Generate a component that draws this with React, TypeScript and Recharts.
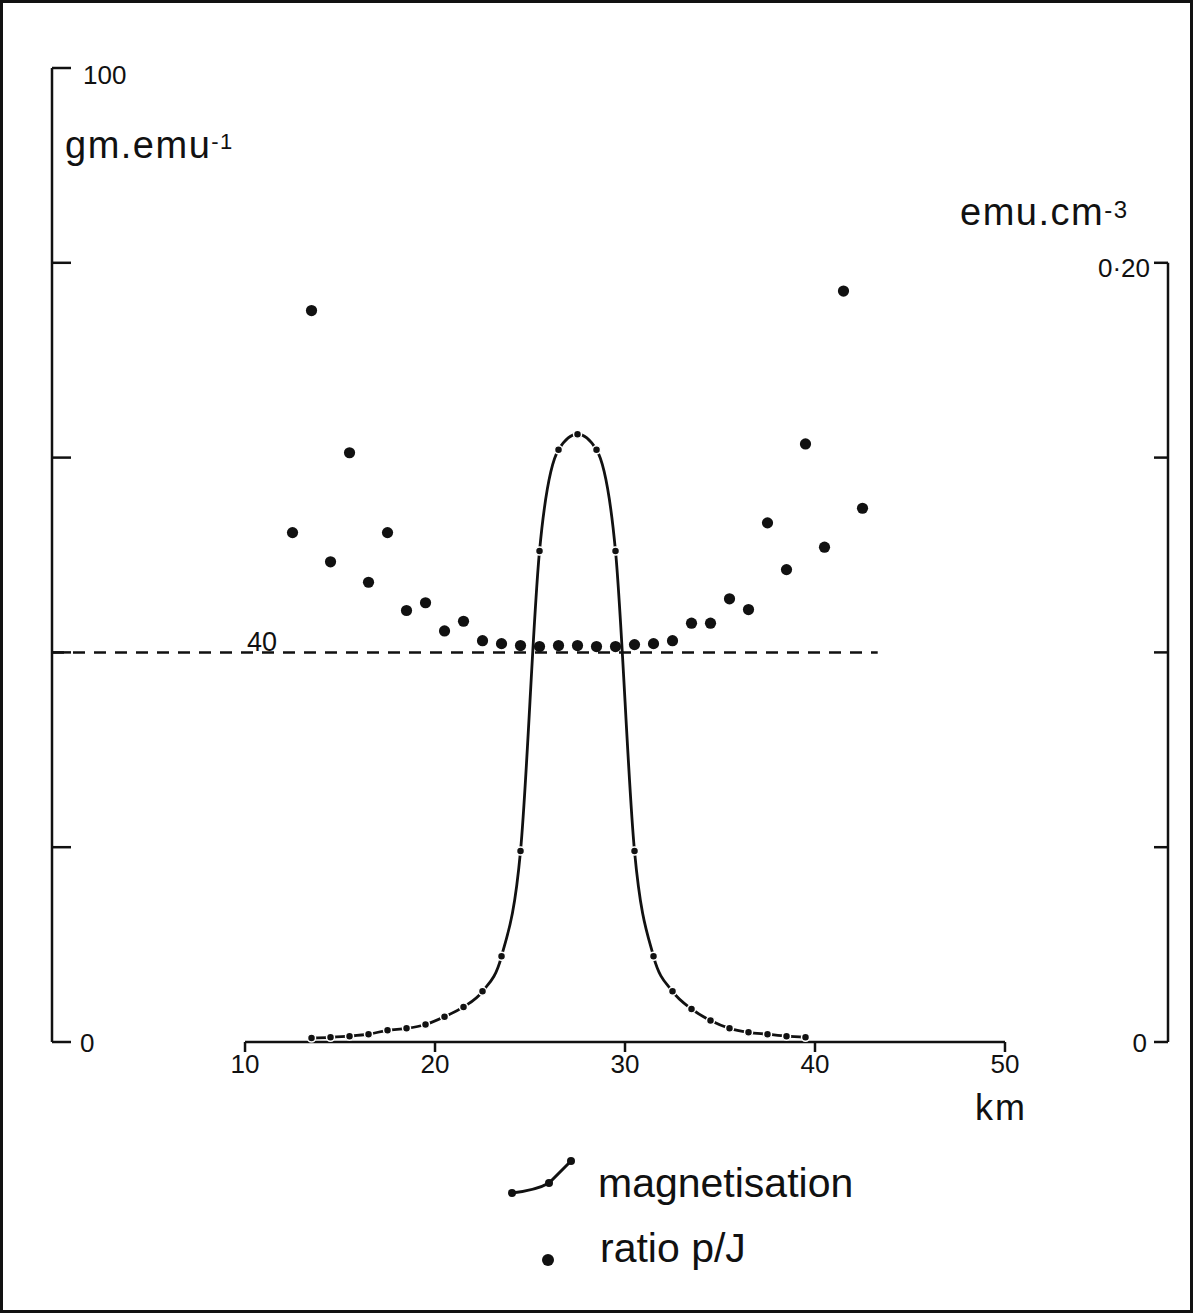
import { ComposedChart, Line, Scatter, XAxis, YAxis, ReferenceLine, ReferenceDot, Legend } from "recharts"

// distance along profile (km) and ratio p/J (gm.emu^-1)
const ratioKm = [
  12.5, 13.5, 14.5, 15.5, 16.5, 17.5, 18.5, 19.5, 20.5, 21.5, 22.5, 23.5, 24.5, 25.5, 26.5, 27.5,
  28.5, 29.5, 30.5, 31.5, 32.5, 33.5, 34.5, 35.5, 36.5, 37.5, 38.5, 39.5, 40.5, 41.5, 42.5,
]
const ratioValues = [
  52.3, 75.1, 49.3, 60.5, 47.2, 52.3, 44.3, 45.1, 42.2, 43.2, 41.2, 40.9, 40.7, 40.6, 40.7, 40.7,
  40.6, 40.6, 40.8, 40.9, 41.2, 43.0, 43.0, 45.5, 44.4, 53.3, 48.5, 61.4, 50.8, 77.1, 54.8,
]

// magnetisation (emu.cm^-3)
const magKm = [
  13.5, 14.5, 15.5, 16.5, 17.5, 18.5, 19.5, 20.5, 21.5, 22.5, 23.5, 24.5, 25.5, 26.5, 27.5, 28.5,
  29.5, 30.5, 31.5, 32.5, 33.5, 34.5, 35.5, 36.5, 37.5, 38.5, 39.5,
]
const magValues = [
  0.001, 0.0012, 0.0015, 0.002, 0.003, 0.0035, 0.0045, 0.0065, 0.009, 0.013, 0.022, 0.049, 0.126,
  0.152, 0.156, 0.152, 0.126, 0.049, 0.022, 0.013, 0.0085, 0.0055, 0.0035, 0.0025, 0.002, 0.0015,
  0.0012,
]

const xTicks = [10, 20, 30, 40, 50]
const leftTicks = [0, 20, 40, 60, 80, 100]
const rightTicks = [0, 0.05, 0.1, 0.15, 0.2]
const leftTickLabels: Record<number, string> = { 0: "0", 100: "100" }
const rightTickLabels: Record<number, string> = { 0: "0", 0.2: "0·20" }

const refLevel = 40
const refEndKm = 43.3
const axisStartKm = 10
const axisEndKm = 50
const rightAxisTop = 0.2

const magName = "magnetisation"
const ratioName = "ratio p/J"

const ratioData = ratioKm.map((km, i) => ({ km, ratio: ratioValues[i] }))
const magData = magKm.map((km, i) => ({ km, mag: magValues[i] }))

const W = 1193
const H = 1313
const PLOT_LEFT = 52
const PLOT_RIGHT = 1168
const PLOT_TOP = 68
const PLOT_BOTTOM = 1042
const X_AXIS_H = 60
const LEGEND_H = 150
const X_MIN = -0.16
const X_MAX = 58.58
const INK = "#111"
const FONT = "'Liberation Sans', Arial, sans-serif"

function LeftTick({ y, payload }: any) {
  const label = leftTickLabels[payload.value]
  return (
    <g>
      <line x1={PLOT_LEFT} x2={PLOT_LEFT + 19} y1={y} y2={y} stroke={INK} strokeWidth={2.5} />
      {label && (
        <text
          x={PLOT_LEFT + (payload.value === 100 ? 31 : 28)}
          y={y + (payload.value === 100 ? 16 : 10)}
          fontSize={26}
          fontFamily={FONT}
          fill={INK}
        >
          {label}
        </text>
      )}
    </g>
  )
}

function RightTick({ y, payload }: any) {
  const label = rightTickLabels[payload.value]
  return (
    <g>
      <line x1={PLOT_RIGHT - 14} x2={PLOT_RIGHT} y1={y} y2={y} stroke={INK} strokeWidth={2.5} />
      {label && (
        <text
          x={PLOT_RIGHT - (payload.value === 0 ? 21 : 18)}
          y={y + (payload.value === 0 ? 10 : 14)}
          textAnchor="end"
          fontSize={26}
          fontFamily={FONT}
          fill={INK}
        >
          {label}
        </text>
      )}
    </g>
  )
}

function BottomTick({ x, y, payload }: any) {
  return (
    <text x={x} y={y + 19} textAnchor="middle" fontSize={26} fontFamily={FONT} fill={INK}>
      {payload.value}
    </text>
  )
}

const leftUnit = () => (
  <text x={65} y={158} fontSize={38} letterSpacing={1.5} fontFamily={FONT} fill={INK}>
    gm.emu
    <tspan fontSize={22} dy={-9}>
      -1
    </tspan>
  </text>
)

const rightUnit = () => (
  <text x={960} y={225} fontSize={38} letterSpacing={1.5} fontFamily={FONT} fill={INK}>
    emu.cm
    <tspan fontSize={24} dy={-7}>
      -3
    </tspan>
  </text>
)

const kmLabel = () => (
  <text x={975} y={1120} fontSize={36} letterSpacing={2} fontFamily={FONT} fill={INK}>
    km
  </text>
)

const levelLabel = (props: any) => {
  const vb = props.viewBox || {}
  return (
    <text x={vb.x} y={(vb.y ?? 0) - 1} fontSize={27} fontFamily={FONT} fill={INK}>
      {refLevel}
    </text>
  )
}

const MagDot = (props: any) => (
  <circle cx={props.cx} cy={props.cy} r={4} fill={INK} stroke="#fff" strokeWidth={1.5} />
)

const RatioDot = (props: any) => <circle cx={props.cx} cy={props.cy} r={5.6} fill={INK} />

const renderLegend = () => (
  <svg width={W} height={LEGEND_H} style={{ display: "block" }}>
    <path d="M512,53 Q537,50 549,43 L572,20" fill="none" stroke={INK} strokeWidth={3} />
    <circle cx={512} cy={53} r={4} fill={INK} />
    <circle cx={549} cy={43} r={4} fill={INK} />
    <circle cx={571} cy={21} r={4} fill={INK} />
    <text x={598} y={57} fontSize={41} fontFamily={FONT} fill={INK}>
      {magName}
    </text>
    <circle cx={548} cy={120} r={6} fill={INK} />
    <text x={600} y={122} fontSize={41} fontFamily={FONT} fill={INK}>
      {ratioName}
    </text>
  </svg>
)

export default function App() {
  return (
    <div style={{ position: "absolute", left: 0, top: 0, width: W, height: H, background: "#fff" }}>
      <ComposedChart
        width={W}
        height={H}
        margin={{ top: PLOT_TOP, right: 0, left: 0, bottom: H - PLOT_BOTTOM - X_AXIS_H - LEGEND_H }}
      >
        <XAxis
          type="number"
          dataKey="km"
          domain={[X_MIN, X_MAX]}
          allowDataOverflow
          ticks={xTicks}
          height={X_AXIS_H}
          axisLine={false}
          tickLine={{ stroke: INK, strokeWidth: 2.5 }}
          tickSize={10}
          tick={<BottomTick />}
          label={kmLabel}
        />
        <YAxis
          yAxisId="left"
          orientation="left"
          width={PLOT_LEFT}
          domain={[0, 100]}
          ticks={leftTicks}
          axisLine={{ stroke: INK, strokeWidth: 2.5 }}
          tickLine={false}
          tick={<LeftTick />}
          label={leftUnit}
        />
        <YAxis
          yAxisId="right"
          orientation="right"
          width={W - PLOT_RIGHT}
          domain={[0, 0.25]}
          ticks={rightTicks}
          axisLine={false}
          tickLine={false}
          tick={<RightTick />}
          label={rightUnit}
        />
        <ReferenceLine
          yAxisId="left"
          segment={[
            { x: axisStartKm, y: 0 },
            { x: axisEndKm, y: 0 },
          ]}
          stroke={INK}
          strokeWidth={2.5}
        />
        <ReferenceLine
          yAxisId="right"
          segment={[
            { x: X_MAX, y: 0 },
            { x: X_MAX, y: rightAxisTop },
          ]}
          stroke={INK}
          strokeWidth={2.5}
        />
        <ReferenceLine
          yAxisId="left"
          segment={[
            { x: X_MIN, y: refLevel },
            { x: refEndKm, y: refLevel },
          ]}
          stroke={INK}
          strokeWidth={2.5}
          strokeDasharray="12 9"
        />
        <ReferenceDot yAxisId="left" x={10.1} y={refLevel} r={0} stroke="none" label={levelLabel} />
        <Line
          yAxisId="right"
          data={magData}
          dataKey="mag"
          name={magName}
          type="monotone"
          stroke={INK}
          strokeWidth={2.8}
          dot={<MagDot />}
          activeDot={false}
          isAnimationActive={false}
        />
        <Scatter
          yAxisId="left"
          data={ratioData}
          dataKey="ratio"
          name={ratioName}
          shape={<RatioDot />}
          isAnimationActive={false}
        />
        <Legend
          content={renderLegend}
          wrapperStyle={{ position: "absolute", left: 0, top: 1140, width: W, height: LEGEND_H }}
        />
      </ComposedChart>
      <div
        style={{
          position: "absolute",
          left: 0,
          top: 0,
          width: W,
          height: H,
          boxSizing: "border-box",
          border: "3px solid #111",
          pointerEvents: "none",
        }}
      />
    </div>
  )
}
